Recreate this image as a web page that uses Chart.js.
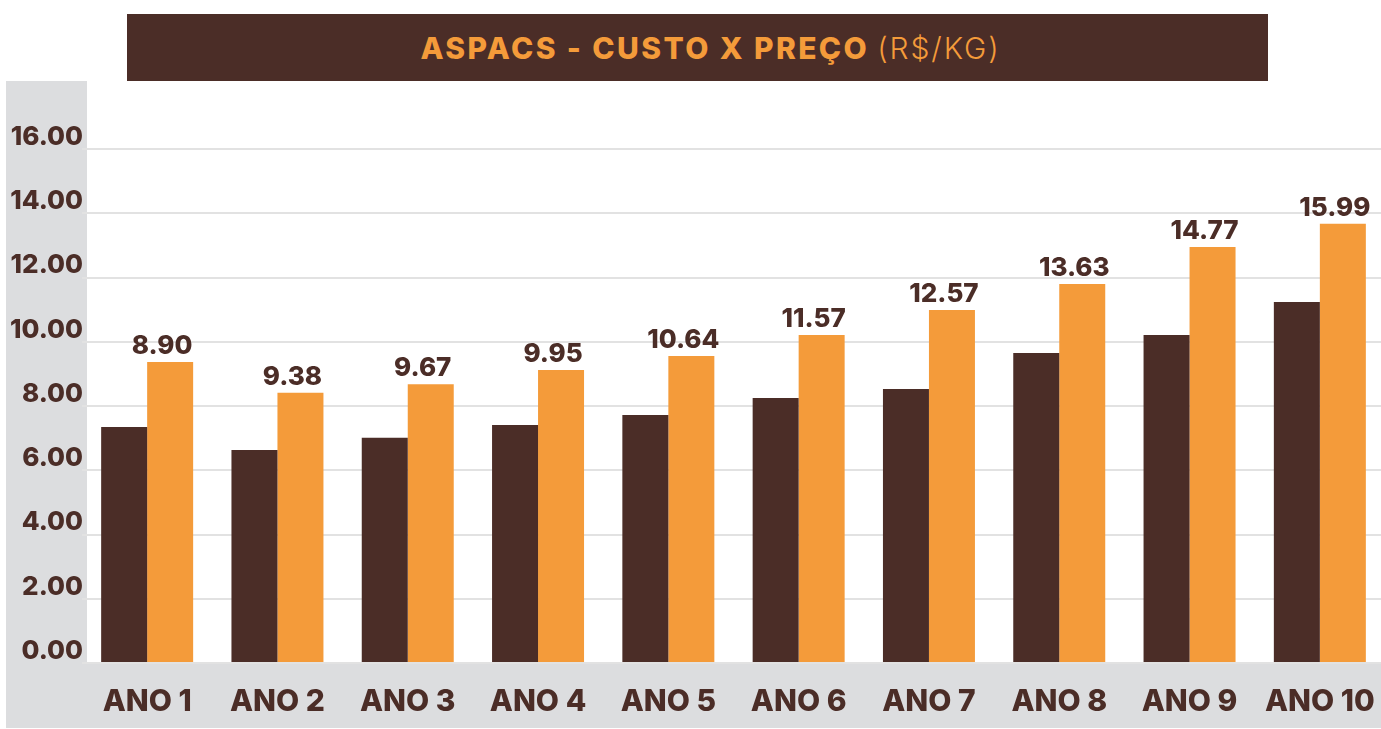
<!DOCTYPE html>
<html>
<head>
<meta charset="utf-8">
<script src="https://cdn.jsdelivr.net/npm/chart.js@4.4.1/dist/chart.umd.min.js"></script>
<style>
  html, body { margin: 0; padding: 0; width: 1381px; height: 729px; overflow: hidden; background: #ffffff; }
  #wrap { position: absolute; left: 0; top: 0; width: 1385px; height: 729px; }
  #title {
    position: absolute; left: 127px; top: 14px; width: 1141px; height: 67px;
    background: #4b2d27; box-sizing: border-box; padding-left: 26px;
    display: flex; align-items: center; justify-content: center;
    font-family: Inter, "Open Sans", sans-serif; font-size: 30px; color: #f49b3a;
    white-space: nowrap; z-index: 2;
  }
  #title b { font-weight: 800; letter-spacing: 2.4px; }
  #title span { font-weight: 300; letter-spacing: 1.9px; margin-left: 8px; }
</style>
</head>
<body>
<div id="wrap"><canvas id="c"></canvas></div>
<div id="title"><b>ASPACS - CUSTO X PREÇO</b><span>(R$/KG)</span></div>
<script>
const categories = ['ANO 1', 'ANO 2', 'ANO 3', 'ANO 4', 'ANO 5', 'ANO 6', 'ANO 7', 'ANO 8', 'ANO 9', 'ANO 10'];
const custo = [7.35, 6.63, 7.01, 7.41, 7.72, 8.25, 8.53, 9.65, 10.21, 11.24];
const preco = [9.37, 8.41, 8.68, 9.12, 9.56, 10.21, 10.99, 11.80, 12.95, 13.67];
const precoLabels = ['8.90', '9.38', '9.67', '9.95', '10.64', '11.57', '12.57', '13.63', '14.77', '15.99'];
const yMin = 0, yMax = 16, yStep = 2;

const DARK = '#4b2d27';
const ORANGE = '#f49b3a';
const PANEL = '#dcdddf';
const FONT = 'Inter, "Open Sans", sans-serif';

const panelPlugin = {
  id: 'panel',
  beforeDraw(chart) {
    const ctx = chart.ctx;
    const a = chart.chartArea;
    ctx.save();
    ctx.fillStyle = PANEL;
    ctx.fillRect(6, 81, a.left + 5 - 6, chart.height - 1 - 81);
    ctx.fillRect(6, a.bottom, chart.width - 6, chart.height - 1 - a.bottom);
    ctx.restore();
  }
};

const labelPlugin = {
  id: 'barLabels',
  afterDatasetsDraw(chart) {
    const ctx = chart.ctx;
    const meta = chart.getDatasetMeta(1);
    ctx.save();
    ctx.fillStyle = DARK;
    ctx.font = '800 26px ' + FONT;
    ctx.textAlign = 'center';
    ctx.textBaseline = 'alphabetic';
    meta.data.forEach((bar, i) => {
      ctx.fillText(precoLabels[i], bar.x - 8, bar.y - 8);
    });
    ctx.restore();
  }
};

new Chart(document.getElementById('c'), {
  type: 'bar',
  data: {
    labels: categories,
    datasets: [
      { label: 'Custo', data: custo, backgroundColor: DARK, borderWidth: 0 },
      { label: 'Preço', data: preco, backgroundColor: ORANGE, borderWidth: 0 }
    ]
  },
  options: {
    responsive: true,
    maintainAspectRatio: false,
    animation: false,
    layout: { padding: { top: 149, right: 0, left: 0, bottom: 0 } },
    plugins: { legend: { display: false }, title: { display: false }, tooltip: { enabled: false } },
    datasets: { bar: { categoryPercentage: 0.706, barPercentage: 1.0 } },
    scales: {
      x: {
        grid: { display: false, drawTicks: false },
        border: { display: false },
        ticks: { color: DARK, font: { family: FONT, size: 30, weight: 800 }, padding: 21, maxRotation: 0, autoSkip: false },
        afterFit(s) { s.height = 66; s.paddingLeft = 0; s.paddingRight = 0; }
      },
      y: {
        min: yMin, max: yMax,
        grid: { color: '#e2e2e2', lineWidth: 2, drawTicks: false },
        border: { display: false },
        ticks: {
          stepSize: yStep, color: DARK, padding: -1, labelOffset: -12,
          font: { family: FONT, size: 26, weight: 800 },
          callback: v => Number(v).toFixed(2)
        },
        afterFit(s) { s.width = 82; s.paddingTop = 0; s.paddingBottom = 0; }
      }
    }
  },
  plugins: [panelPlugin, labelPlugin]
});
</script>
</body>
</html>
